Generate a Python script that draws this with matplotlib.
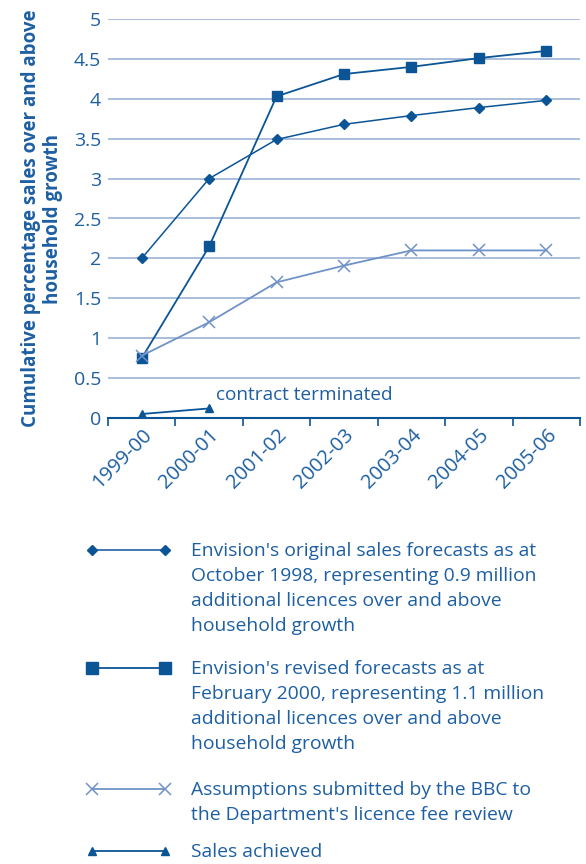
import matplotlib.pyplot as plt
from matplotlib.lines import Line2D
import numpy as np

plt.rcParams['font.family'] = ['Open Sans', 'DejaVu Sans']

years = ["1999-00", "2000-01", "2001-02", "2002-03", "2003-04", "2004-05", "2005-06"]
original = [2.0, 3.0, 3.49, 3.68, 3.79, 3.89, 3.98]
revised = [0.75, 2.15, 4.03, 4.31, 4.40, 4.51, 4.60]
bbc = [0.78, 1.2, 1.7, 1.91, 2.1, 2.1, 2.1]
achieved = [0.05, 0.12]

labels = [
    "Envision's original sales forecasts as at\nOctober 1998, representing 0.9 million\nadditional licences over and above\nhousehold growth",
    "Envision's revised forecasts as at\nFebruary 2000, representing 1.1 million\nadditional licences over and above\nhousehold growth",
    "Assumptions submitted by the BBC to\nthe Department's licence fee review",
    "Sales achieved",
]

TXT = '#1d5fa2'
DARK = '#0b5597'
LIGHT = '#6f93c8'
GRID = '#a9bedc'

W, H = 586, 864
fig = plt.figure(figsize=(W / 100, H / 100), dpi=100)
ax = fig.add_axes([108 / W, 1 - 418 / H, 472 / W, 399 / H])

x = np.arange(len(years))
ax.plot(x, original, color=DARK, lw=1.1, marker='D', ms=5, mfc=DARK, mec=DARK)
ax.plot(x, revised, color=DARK, lw=1.3, marker='s', ms=7.5, mfc=DARK, mec=DARK)
ax.plot(x, bbc, color=LIGHT, lw=1.3, marker='x', ms=8, mew=1.1)
ax.plot(x[:len(achieved)], achieved, color=DARK, lw=1.3, marker='^', ms=6)
ax.annotate("contract terminated", xy=(x[1], achieved[1]), xytext=(5, 3),
            textcoords='offset points', color=TXT, fontsize=13.7, va='bottom')

ax.set_xlim(-0.5, len(years) - 0.5)
ax.set_ylim(0, 5)
ax.set_yticks(np.arange(0, 5.01, 0.5))
ax.set_yticklabels(["0", "0.5", "1", "1.5", "2", "2.5", "3", "3.5", "4", "4.5", "5"])
ax.yaxis.grid(True, color=GRID, lw=1.4)
ax.set_axisbelow(True)
ax.tick_params(axis='y', length=0, labelsize=14, labelcolor=TXT, pad=5)

ax.set_xticks(x)
ax.set_xticklabels(years, rotation=45, ha='right', rotation_mode='anchor',
                   fontsize=14.5, color=TXT)
ax.set_xticks(np.arange(-0.5, len(years)), minor=True)
ax.tick_params(axis='x', which='major', length=0, pad=5)
ax.tick_params(axis='x', which='minor', length=6, color=DARK, width=1.2)
for s in ['left', 'right', 'top']:
    ax.spines[s].set_visible(False)
ax.spines['bottom'].set_color(DARK)
ax.spines['bottom'].set_linewidth(1.5)

ax.set_ylabel("Cumulative percentage sales over and above\nhousehold growth",
              fontsize=13.5, fontweight='bold', color=TXT, labelpad=8, linespacing=1.1)

# legend below the chart
styles = [
    dict(color=DARK, lw=1.1, marker='D', ms=5),
    dict(color=DARK, lw=1.3, marker='s', ms=9),
    dict(color=LIGHT, lw=1.3, marker='x', ms=9, mew=1.1),
    dict(color=DARK, lw=1.3, marker='^', ms=6),
]
rows = [550, 668, 789, 851]
for st, lab, yp in zip(styles, labels, rows):
    yf = 1 - yp / H
    fig.add_artist(Line2D([92 / W, 165 / W], [yf, yf], transform=fig.transFigure, **st))
    fig.text(191 / W, yf + 8 / H, lab, color=TXT, fontsize=13.9, va='top', ha='left',
             linespacing=1.5)

fig.savefig('out.png', dpi=100)
